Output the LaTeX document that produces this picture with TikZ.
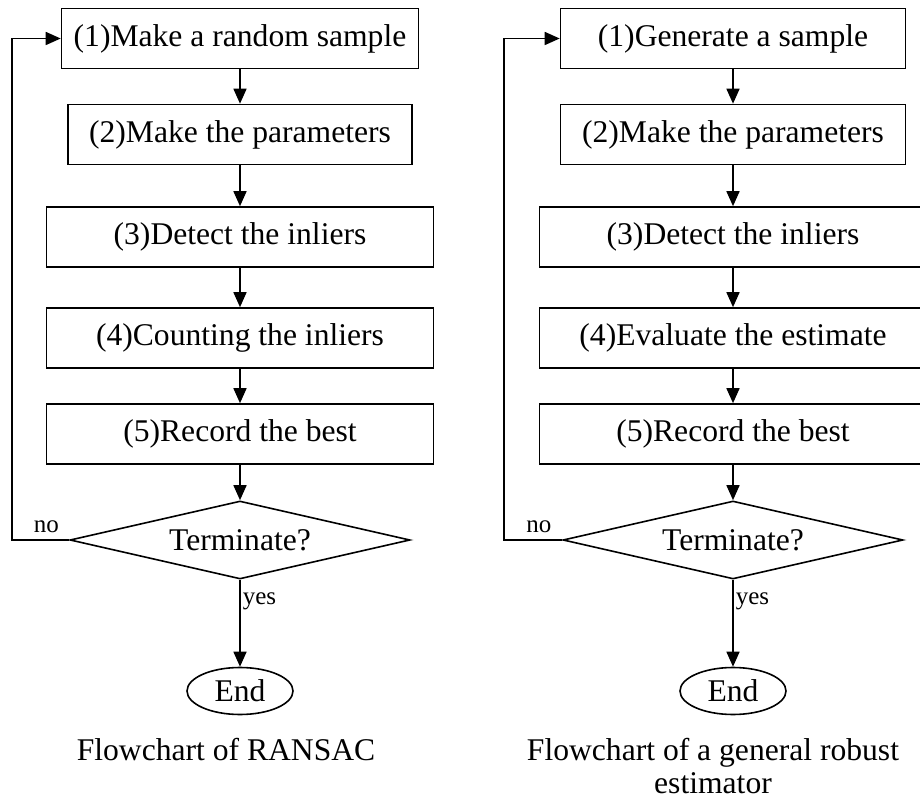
\documentclass[tikz,border=0pt]{standalone}
\usepackage{fontspec}
\setmainfont{Liberation Serif}
\usetikzlibrary{arrows.meta,shapes.geometric}

\tikzset{
	stepbox/.style = {draw, rectangle, line width = 0.8pt, inner sep = 0pt, minimum height = 30pt, font = \fontsize{15.8}{19}\selectfont},
	decision/.style = {draw, diamond, aspect = 4.36, line width = 0.8pt, inner sep = 0pt, minimum width = 170pt, minimum height = 39pt, font = \fontsize{15.8}{19}\selectfont},
	endnode/.style = {draw, ellipse, line width = 0.8pt, inner sep = 0pt, minimum width = 53pt, minimum height = 23.5pt, font = \fontsize{15.8}{19}\selectfont},
	flow/.style = {line width = 0.8pt, -{Triangle[length = 7.5pt, width = 6.5pt]}},
	answer/.style = {font = \fontsize{12.5}{14}\selectfont},
	caption/.style = {align = center, font = \fontsize{15.8}{16.5}\selectfont}
}

\begin{document}
\begin{tikzpicture}[x = 0.5pt, y = -0.5pt]
		\useasboundingbox (0,0) rectangle (920,801);
		% RANSAC
		\node[stepbox, minimum width = 178.5pt] (L1) at (240,38.5) {(1)Make a random sample};
		\node[stepbox, minimum width = 172pt] (L2) at (240,134.5) {(2)Make the parameters};
		\node[stepbox, minimum width = 193.5pt] (L3) at (240,237) {(3)Detect the inliers};
		\node[stepbox, minimum width = 193.5pt] (L4) at (240,338) {(4)Counting the inliers};
		\node[stepbox, minimum width = 193.5pt] (L5) at (240,434) {(5)Record the best};
		\node[decision] (Ldec) at (240,540) {Terminate?};
		\node[endnode] (Lend) at (240,691) {End};
		\coordinate (Lloop) at (12,540);
		\node[caption, anchor = base] (Lcap) at (226,760) {Flowchart of RANSAC};
		\draw[flow] (L1) -- (L2);
		\draw[flow] (L2) -- (L3);
		\draw[flow] (L3) -- (L4);
		\draw[flow] (L4) -- (L5);
		\draw[flow] (L5) -- (Ldec);
		\draw[flow] (Ldec) -- node[answer, right, pos = 0.25, inner sep = 1pt] {yes} (Lend);
		\draw[flow] (Ldec.west) -- node[answer, above, pos = 0.4] {no} (Lloop) |- (L1.west);
		% general robust estimator
		\node[stepbox, minimum width = 172.5pt] (R1) at (733,38.5) {(1)Generate a sample};
		\node[stepbox, minimum width = 172.5pt] (R2) at (733,134.5) {(2)Make the parameters};
		\node[stepbox, minimum width = 193.5pt] (R3) at (733,237) {(3)Detect the inliers};
		\node[stepbox, minimum width = 193.5pt] (R4) at (733,338) {(4)Evaluate the estimate};
		\node[stepbox, minimum width = 193.5pt] (R5) at (733,434) {(5)Record the best};
		\node[decision] (Rdec) at (733,540) {Terminate?};
		\node[endnode] (Rend) at (733,691) {End};
		\coordinate (Rloop) at (504,540);
		\node[caption, anchor = base] (Rcap) at (713,793) {Flowchart of a general robust\\estimator};
		\draw[flow] (R1) -- (R2);
		\draw[flow] (R2) -- (R3);
		\draw[flow] (R3) -- (R4);
		\draw[flow] (R4) -- (R5);
		\draw[flow] (R5) -- (Rdec);
		\draw[flow] (Rdec) -- node[answer, right, pos = 0.25, inner sep = 1pt] {yes} (Rend);
		\draw[flow] (Rdec.west) -- node[answer, above, pos = 0.4] {no} (Rloop) |- (R1.west);
	\end{tikzpicture}
\end{document}
